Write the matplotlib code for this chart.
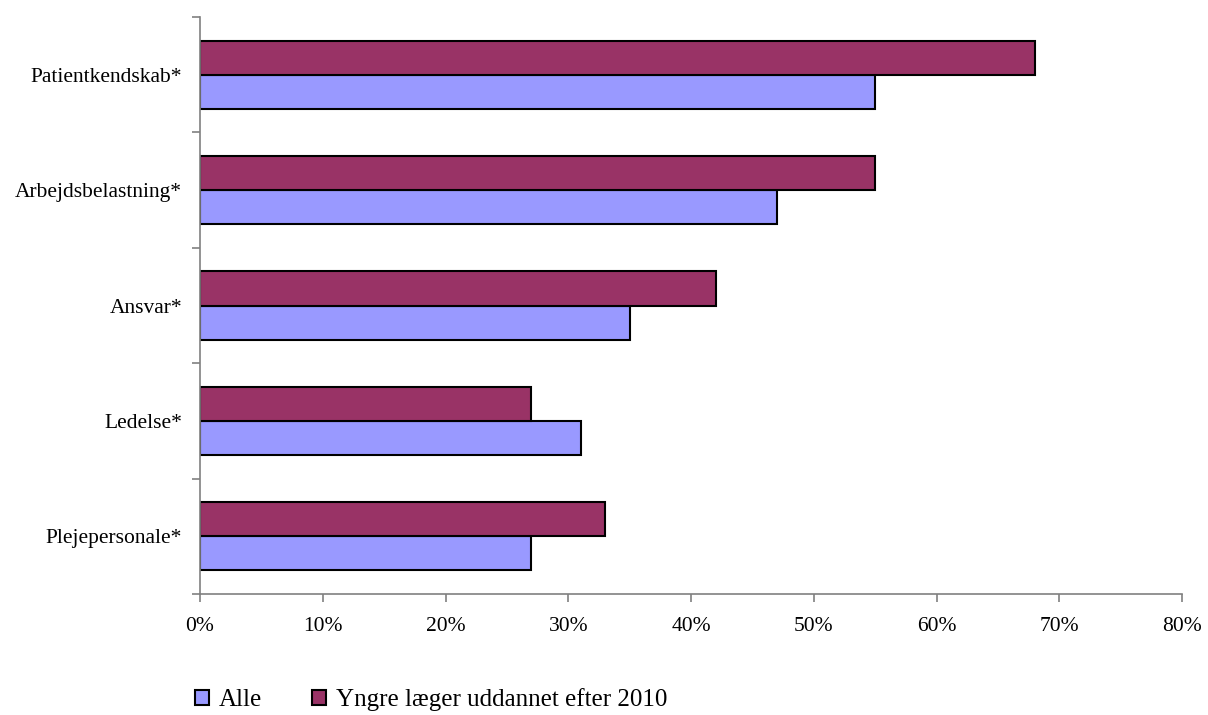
import matplotlib.pyplot as plt
import numpy as np

categories = ["Plejepersonale*", "Ledelse*", "Ansvar*", "Arbejdsbelastning*", "Patientkendskab*"]
alle = [27, 31, 35, 47, 55]
yngre = [33, 27, 42, 55, 68]
xticks = [0, 10, 20, 30, 40, 50, 60, 70, 80]

plt.rcParams['font.family'] = ['Liberation Serif', 'DejaVu Serif']

fig = plt.figure(figsize=(12.08, 7.15), dpi=100)
ax = fig.add_axes([0.1656, 0.1692, 0.8129, 0.807])

y = np.arange(len(categories))
h = 0.295
ax.barh(y - h / 2, alle, height=h, color='#9999FF', edgecolor='black', linewidth=1.5, label='Alle')
ax.barh(y + h / 2, yngre, height=h, color='#993366', edgecolor='black', linewidth=1.5,
        label='Yngre læger uddannet efter 2010')

ax.set_xlim(0, 80)
ax.set_ylim(-0.5, len(categories) - 0.5)
ax.set_xticks(xticks)
ax.set_xticklabels([f"{v}%" for v in xticks])
ax.set_yticks(y)
ax.set_yticklabels(categories)
# category separators as minor ticks, no major tick marks
ax.set_yticks(np.arange(-0.5, len(categories), 1), minor=True)
ax.tick_params(axis='y', which='major', length=0, pad=13, labelsize=15.5)
ax.tick_params(axis='y', which='minor', length=6, color='#808080', width=1.2)
ax.tick_params(axis='x', length=6, color='#808080', width=1.2, pad=10.5, labelsize=15.5)

for side in ['top', 'right']:
    ax.spines[side].set_visible(False)
for side in ['left', 'bottom']:
    ax.spines[side].set_color('#808080')
    ax.spines[side].set_linewidth(1.2)

fig.legend(loc='center left', bbox_to_anchor=(0.143, 0.021), ncol=2, frameon=False,
           fontsize=18, handlelength=0.55, handleheight=0.55, handletextpad=0.4,
           columnspacing=2.0)

plt.savefig('out.png', dpi=100)
